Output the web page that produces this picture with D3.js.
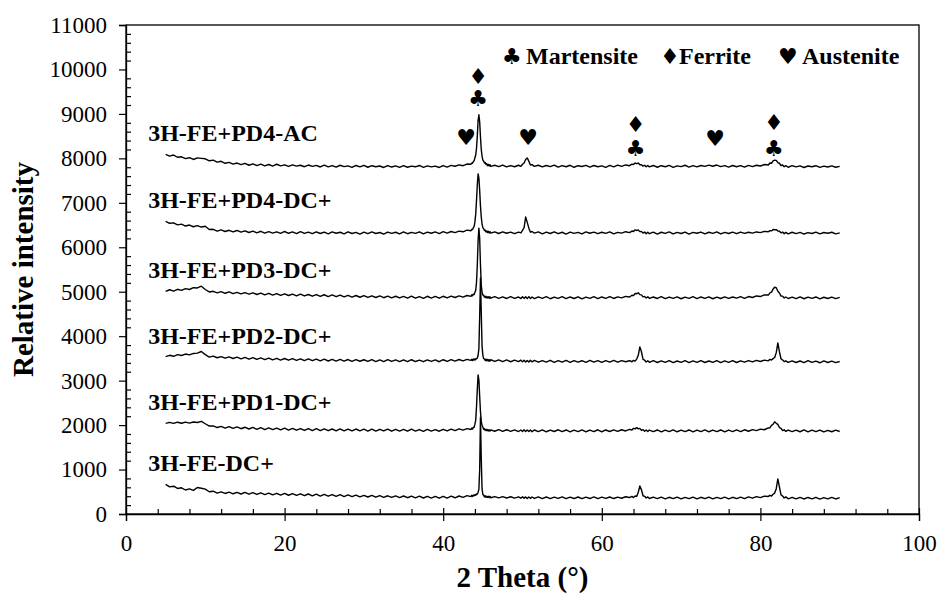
<!DOCTYPE html>
<html>
<head>
<meta charset="utf-8">
<script src="https://cdn.jsdelivr.net/npm/d3@7"></script>
<style>
  html, body { margin: 0; padding: 0; background: #fff; }
  svg { display: block; }
  text { font-family: "Liberation Serif", "Times New Roman", serif; fill: #000; }
  .suit { font-family: "DejaVu Sans", sans-serif; }
</style>
</head>
<body>
<svg id="chart" width="939" height="594"></svg>
<script>
// 2θ sampling grid shared by every pattern (finer steps across the reflections)
const twoTheta = [
  5, 5.5, 6, 6.5, 7, 7.5, 8, 8.5, 9, 9.5,
  10, 10.5, 11, 11.5, 12, 12.5, 13, 13.5, 14, 14.5,
  15, 15.5, 16, 16.5, 17, 17.5, 18, 18.5, 19, 19.5,
  20, 20.5, 21, 21.5, 22, 22.5, 23, 23.5, 24, 24.5,
  25, 25.5, 26, 26.5, 27, 27.5, 28, 28.5, 29, 29.5,
  30, 30.5, 31, 31.5, 32, 32.5, 33, 33.5, 34, 34.5,
  35, 35.5, 36, 36.5, 37, 37.5, 38, 38.5, 39, 39.5,
  40, 40.5, 41, 41.5, 42, 42.5, 43, 43.5,
  43.6, 43.7, 43.8, 43.9, 44.0, 44.1, 44.2, 44.3, 44.4, 44.5, 44.6, 44.7, 44.8, 44.9,
  45.0, 45.1, 45.2, 45.3, 45.4, 45.5, 45.6, 45.7, 45.8, 45.9, 46.0,
  46.5, 47, 47.5, 48, 48.5, 49, 49.5,
  49.8, 50.0, 50.2, 50.4, 50.6, 50.8, 51.0, 51.2,
  51.5, 52, 52.5, 53, 53.5, 54, 54.5, 55, 55.5, 56, 56.5, 57, 57.5, 58, 58.5,
  59, 59.5, 60, 60.5, 61, 61.5, 62, 62.5, 63, 63.5,
  63.8, 64.0, 64.2, 64.4, 64.6, 64.8, 65.0, 65.2, 65.4, 65.6, 65.8,
  66, 66.5, 67, 67.5, 68, 68.5, 69, 69.5, 70, 70.5,
  71, 71.5, 72, 72.5, 73, 73.5, 74, 74.5, 75, 75.5,
  76, 76.5, 77, 77.5, 78, 78.5, 79, 79.5, 80, 80.5, 81,
  81.2, 81.4, 81.6, 81.8, 82.0, 82.2, 82.4, 82.6, 82.8, 83.0, 83.2,
  83.5, 84, 84.5, 85, 85.5, 86, 86.5, 87, 87.5, 88, 88.5, 89, 89.5, 90
];

// Offset diffraction patterns (relative intensity), top to bottom
const pd4AC = [
  8090, 8050, 8075, 8025, 8035, 7995, 8015, 7975, 8010, 8000,
  7990, 7945, 7960, 7915, 7935, 7890, 7910, 7870, 7895, 7860,
  7888, 7845, 7878, 7838, 7870, 7832, 7862, 7825, 7868, 7830,
  7855, 7818, 7852, 7825, 7845, 7812, 7850, 7820, 7842, 7806,
  7848, 7810, 7838, 7802, 7845, 7815, 7832, 7798, 7840, 7808,
  7842, 7800, 7835, 7812, 7828, 7795, 7838, 7805, 7830, 7796,
  7835, 7800, 7826, 7810, 7840, 7798, 7832, 7808, 7825, 7795,
  7838, 7805, 7842, 7822, 7855, 7835, 7872, 7868,
  7895, 7890, 7930, 7945, 8010, 8075, 8230, 8500, 8850, 8980, 8820, 8480, 8200, 8050,
  7960, 7940, 7895, 7905, 7860, 7878, 7835, 7865, 7828, 7858, 7820,
  7845, 7815, 7850, 7808, 7838, 7812, 7845,
  7820, 7868, 7895, 7975, 8010, 7935, 7850, 7858,
  7820, 7845, 7808, 7840, 7815, 7848, 7802, 7838, 7812, 7845, 7800, 7835, 7818, 7842, 7805,
  7840, 7812, 7830, 7798, 7842, 7810, 7848, 7820, 7852, 7835,
  7870, 7862, 7895, 7880, 7895, 7855, 7858, 7825, 7845, 7810, 7838,
  7808, 7840, 7800, 7835, 7812, 7842, 7798, 7830, 7815, 7845,
  7802, 7835, 7808, 7840, 7820, 7848, 7822, 7850, 7815, 7838,
  7805, 7840, 7812, 7836, 7802, 7842, 7815, 7845, 7828, 7862, 7850,
  7895, 7890, 7945, 7960, 7955, 7905, 7890, 7838, 7850, 7812, 7835,
  7800, 7835, 7808, 7830, 7795, 7828, 7812, 7835, 7798, 7826, 7805, 7832, 7800, 7820
];

const pd4DC = [
  6585, 6540, 6550, 6505, 6520, 6478, 6500, 6462, 6488, 6455,
  6472, 6400, 6405, 6362, 6392, 6355, 6382, 6345, 6378, 6340,
  6370, 6332, 6365, 6325, 6360, 6320, 6352, 6318, 6348, 6312,
  6355, 6315, 6345, 6308, 6352, 6312, 6340, 6305, 6348, 6310,
  6342, 6302, 6345, 6315, 6338, 6300, 6348, 6310, 6335, 6298,
  6340, 6305, 6345, 6310, 6332, 6296, 6342, 6312, 6338, 6300,
  6345, 6305, 6335, 6312, 6348, 6302, 6340, 6315, 6345, 6308,
  6350, 6318, 6355, 6330, 6362, 6348, 6385, 6372,
  6400, 6398, 6440, 6465, 6570, 6745, 7050, 7400, 7650, 7560, 7280, 6930, 6680, 6525,
  6440, 6420, 6375, 6385, 6345, 6368, 6330, 6358, 6322, 6350, 6318,
  6345, 6310, 6348, 6315, 6342, 6305, 6340,
  6325, 6382, 6440, 6680, 6560, 6430, 6340, 6355,
  6318, 6345, 6302, 6340, 6310, 6348, 6305, 6338, 6298, 6342, 6312, 6335, 6300, 6345, 6315,
  6340, 6305, 6338, 6312, 6345, 6302, 6335, 6318, 6350, 6330,
  6365, 6355, 6392, 6378, 6390, 6352, 6355, 6318, 6342, 6305, 6338,
  6305, 6340, 6298, 6338, 6312, 6345, 6300, 6335, 6310, 6342,
  6298, 6335, 6315, 6342, 6302, 6338, 6312, 6345, 6300, 6336,
  6310, 6340, 6305, 6342, 6312, 6338, 6318, 6345, 6330, 6358, 6348,
  6375, 6368, 6400, 6395, 6398, 6365, 6362, 6325, 6342, 6305, 6335,
  6300, 6338, 6308, 6335, 6298, 6330, 6310, 6340, 6302, 6332, 6315, 6338, 6300, 6325
];

const pd3DC = [
  5010, 5045, 5015, 5055, 5030, 5070, 5050, 5090, 5085, 5125,
  5050, 4995, 5010, 4975, 5002, 4965, 4995, 4958, 4985, 4952,
  4980, 4945, 4975, 4938, 4968, 4930, 4962, 4925, 4958, 4920,
  4952, 4915, 4948, 4908, 4945, 4905, 4938, 4900, 4935, 4895,
  4932, 4892, 4928, 4888, 4925, 4885, 4920, 4880, 4915, 4876,
  4912, 4872, 4908, 4870, 4905, 4865, 4902, 4862, 4898, 4860,
  4895, 4858, 4900, 4855, 4892, 4852, 4898, 4858, 4895, 4855,
  4898, 4862, 4900, 4870, 4905, 4880, 4915, 4895,
  4930, 4910, 4945, 4935, 4990, 5030, 5210, 5600, 6150, 6430, 6200, 5600, 5150, 4995,
  4925, 4920, 4878, 4900, 4862, 4892, 4858, 4888, 4852, 4885, 4855,
  4888, 4850, 4885, 4848, 4890, 4852, 4882,
  4846, 4888, 4850, 4885, 4845, 4890, 4848, 4882,
  4845, 4885, 4850, 4888, 4842, 4880, 4852, 4890, 4845, 4882, 4848, 4886, 4840, 4880, 4852,
  4888, 4845, 4882, 4850, 4890, 4848, 4885, 4862, 4895, 4880,
  4920, 4912, 4960, 4955, 4975, 4935, 4930, 4885, 4895, 4860, 4885,
  4852, 4882, 4848, 4888, 4845, 4880, 4850, 4885, 4842, 4878,
  4852, 4888, 4846, 4882, 4850, 4886, 4842, 4880, 4848, 4885,
  4850, 4882, 4855, 4888, 4852, 4892, 4870, 4905, 4892, 4930, 4925,
  4975, 4990, 5060, 5100, 5090, 5010, 4972, 4900, 4902, 4860, 4882,
  4848, 4880, 4845, 4885, 4842, 4878, 4850, 4882, 4840, 4876, 4848, 4880, 4845, 4872
];

const pd2DC = [
  3540, 3570, 3548, 3585, 3565, 3598, 3580, 3612, 3618, 3655,
  3585, 3530, 3552, 3515, 3540, 3505, 3535, 3498, 3528, 3490,
  3522, 3482, 3518, 3478, 3512, 3472, 3508, 3468, 3502, 3462,
  3498, 3460, 3495, 3455, 3490, 3450, 3488, 3448, 3485, 3445,
  3482, 3442, 3480, 3440, 3478, 3438, 3475, 3435, 3472, 3436,
  3470, 3432, 3475, 3430, 3468, 3428, 3472, 3432, 3465, 3428,
  3468, 3425, 3470, 3430, 3462, 3426, 3468, 3432, 3465, 3425,
  3470, 3432, 3472, 3438, 3475, 3445, 3478, 3455,
  3480, 3450, 3485, 3462, 3490, 3472, 3502, 3505, 3570, 3720, 4450, 5310, 4550, 3780,
  3570, 3495, 3490, 3452, 3482, 3445, 3478, 3440, 3475, 3438, 3470,
  3432, 3468, 3428, 3465, 3425, 3460, 3428,
  3462, 3422, 3458, 3420, 3455, 3418, 3460, 3422,
  3455, 3415, 3452, 3418, 3458, 3412, 3450, 3415, 3455, 3410, 3452, 3418, 3448, 3412, 3455,
  3415, 3450, 3410, 3452, 3418, 3456, 3415, 3450, 3425, 3448,
  3425, 3455, 3440, 3485, 3570, 3760, 3650, 3480, 3460, 3420, 3448,
  3412, 3448, 3408, 3445, 3410, 3450, 3405, 3442, 3412, 3448,
  3406, 3445, 3410, 3450, 3408, 3442, 3412, 3448, 3405, 3445,
  3410, 3450, 3408, 3446, 3415, 3452, 3420, 3455, 3430, 3462, 3445,
  3478, 3462, 3495, 3520, 3630, 3850, 3650, 3490, 3465, 3428, 3445,
  3410, 3445, 3408, 3442, 3405, 3448, 3410, 3440, 3402, 3445, 3408, 3438, 3405, 3430
];

const pd1DC = [
  2040, 2062, 2038, 2065, 2042, 2068, 2045, 2070, 2058, 2085,
  2030, 1978, 1982, 1945, 1972, 1932, 1965, 1925, 1958, 1918,
  1952, 1912, 1948, 1905, 1942, 1900, 1938, 1898, 1932, 1892,
  1930, 1888, 1925, 1885, 1922, 1880, 1920, 1878, 1918, 1875,
  1915, 1874, 1912, 1872, 1915, 1870, 1910, 1868, 1912, 1870,
  1908, 1866, 1910, 1865, 1905, 1868, 1908, 1862, 1905, 1866,
  1902, 1862, 1908, 1865, 1900, 1860, 1905, 1866, 1898, 1862,
  1905, 1868, 1910, 1875, 1915, 1888, 1922, 1900,
  1935, 1910, 1950, 1950, 2020, 2110, 2410, 2800, 3130, 3020, 2650, 2300, 2085, 1990,
  1955, 1905, 1920, 1880, 1905, 1872, 1900, 1868, 1895, 1865, 1892,
  1862, 1898, 1858, 1895, 1860, 1892, 1855,
  1890, 1856, 1895, 1858, 1892, 1855, 1888, 1852,
  1890, 1855, 1892, 1850, 1888, 1856, 1895, 1852, 1890, 1848, 1886, 1855, 1892, 1850, 1888,
  1854, 1895, 1850, 1890, 1856, 1892, 1858, 1895, 1868, 1905,
  1890, 1928, 1915, 1942, 1915, 1925, 1880, 1898, 1860, 1888, 1856,
  1888, 1852, 1890, 1848, 1886, 1855, 1892, 1850, 1885, 1852,
  1890, 1848, 1888, 1855, 1892, 1850, 1886, 1852, 1890, 1848,
  1888, 1855, 1892, 1852, 1895, 1862, 1898, 1875, 1908, 1895, 1935,
  1940, 1995, 2020, 2075, 2040, 2015, 1945, 1925, 1878, 1895, 1858,
  1888, 1852, 1886, 1850, 1890, 1848, 1885, 1852, 1888, 1846, 1882, 1850, 1885, 1855
];

const feDC = [
  665, 610, 625, 575, 590, 540, 565, 530, 595, 580,
  560, 500, 512, 470, 498, 462, 492, 455, 488, 450,
  485, 445, 480, 440, 476, 436, 470, 430, 466, 426,
  462, 422, 458, 418, 455, 412, 450, 408, 446, 404,
  442, 400, 438, 396, 435, 392, 430, 390, 425, 386,
  420, 382, 418, 378, 415, 375, 410, 372, 408, 370,
  405, 366, 402, 362, 400, 360, 398, 358, 396, 356,
  398, 358, 400, 365, 405, 375, 412, 390,
  420, 395, 425, 410, 435, 420, 452, 445, 490, 560, 1000, 2180, 1250, 570,
  440, 425, 385, 410, 375, 400, 372, 398, 368, 395, 366,
  392, 362, 390, 360, 388, 358, 386,
  355, 388, 352, 385, 350, 384, 352, 382,
  350, 385, 348, 382, 346, 380, 350, 384, 345, 378, 348, 382, 344, 380, 348,
  384, 346, 378, 350, 382, 348, 380, 355, 388, 370,
  395, 370, 405, 395, 490, 630, 545, 410, 398, 360, 385,
  348, 380, 345, 378, 342, 376, 346, 380, 340, 375,
  344, 378, 342, 376, 346, 380, 340, 374, 345, 378,
  342, 376, 346, 380, 345, 384, 356, 392, 368, 402, 395,
  420, 405, 445, 470, 570, 790, 610, 430, 405, 360, 385,
  342, 376, 340, 374, 338, 372, 342, 376, 336, 370, 340, 374, 338, 368
];

const sampleNames = [
  "3H-FE+PD4-AC", "3H-FE+PD4-DC+", "3H-FE+PD3-DC+",
  "3H-FE+PD2-DC+", "3H-FE+PD1-DC+", "3H-FE-DC+"
];
const sampleValues = [pd4AC, pd4DC, pd3DC, pd2DC, pd1DC, feDC];

// Axis ticks
const xTicks = [0, 20, 40, 60, 80, 100];
const yTicks = [0, 1000, 2000, 3000, 4000, 5000, 6000, 7000, 8000, 9000, 10000, 11000];

// Phase legend and reflection markers (2θ, level)
const phaseSymbols = ["\u2663", "\u2666", "\u2665"];
const phaseNames = ["Martensite", "Ferrite", "Austenite"];
const markerSymbols = ["\u2666", "\u2663", "\u2665", "\u2665", "\u2666", "\u2663", "\u2665", "\u2666", "\u2663"];
const markerAngles  = [44.4, 44.4, 42.9, 50.7, 64.25, 64.25, 74.3, 81.7, 81.7];
const markerLevels  = [9850, 9340, 8480, 8480, 8770, 8230, 8450, 8800, 8230];

// ---- drawing ----
const W = 939, H = 594;
const margin = { top: 25, right: 20, bottom: 80, left: 126 };
const svg = d3.select("#chart");

const x = d3.scaleLinear().domain([0, 100]).range([margin.left, W - margin.right]);
const y = d3.scaleLinear().domain([0, 11000]).range([H - margin.bottom, margin.top]);

// plot frame
svg.append("rect")
  .attr("x", x(0)).attr("y", y(11000))
  .attr("width", x(100) - x(0)).attr("height", y(0) - y(11000))
  .attr("fill", "none").attr("stroke", "#000").attr("stroke-width", 1.3);

// minor ticks (inside)
const xMinor = d3.range(0, 100.001, 4).filter(v => !xTicks.includes(v));
const yMinor = d3.range(0, 11000.1, 200).filter(v => !yTicks.includes(v));

svg.append("g")
  .attr("transform", `translate(0,${y(0)})`)
  .call(d3.axisBottom(x).tickValues(xMinor).tickSize(-5).tickFormat(""))
  .call(g => g.select(".domain").remove())
  .selectAll("line").attr("stroke-width", 1.2);

svg.append("g")
  .attr("transform", `translate(${x(0)},0)`)
  .call(d3.axisLeft(y).tickValues(yMinor).tickSize(-5).tickFormat(""))
  .call(g => g.select(".domain").remove())
  .selectAll("line").attr("stroke-width", 1.2);

// major ticks
const xAxis = svg.append("g")
  .attr("transform", `translate(0,${y(0)})`)
  .call(d3.axisBottom(x).tickValues(xTicks).tickSize(7).tickPadding(14).tickFormat(d3.format("d")));
xAxis.select(".domain").attr("stroke-width", 1.3);
xAxis.selectAll(".tick line").attr("y1", -6).attr("stroke-width", 1.2);
xAxis.selectAll("text").style("font-size", "23px").style("font-family", '"Liberation Serif", serif');

const yAxis = svg.append("g")
  .attr("transform", `translate(${x(0)},0)`)
  .call(d3.axisLeft(y).tickValues(yTicks).tickSize(7).tickPadding(12).tickFormat(d3.format("d")));
yAxis.select(".domain").attr("stroke-width", 1.3);
yAxis.selectAll(".tick line").attr("stroke-width", 1.2);
yAxis.selectAll("text").style("font-size", "23px").style("font-family", '"Liberation Serif", serif');

// axis titles
svg.append("text")
  .attr("x", (x(0) + x(100)) / 2).attr("y", 587)
  .attr("text-anchor", "middle")
  .style("font-size", "29px").style("font-weight", "bold")
  .text("2 Theta (\u00B0)");

svg.append("text")
  .attr("transform", `translate(33,${(y(0) + y(11000)) / 2}) rotate(-90)`)
  .attr("text-anchor", "middle")
  .style("font-size", "29px").style("font-weight", "bold")
  .text("Relative intensity");

// patterns
const line = d3.line()
  .x((d, i) => x(twoTheta[i]))
  .y(d => y(d));

svg.append("g").selectAll("path")
  .data(sampleValues)
  .join("path")
  .attr("d", line)
  .attr("fill", "none")
  .attr("stroke", "#000")
  .attr("stroke-width", 1.4)
  .attr("stroke-linejoin", "round");

// sample names, just above the start of each pattern
svg.append("g").selectAll("text")
  .data(sampleNames)
  .join("text")
  .attr("x", x(2.8))
  .attr("y", (d, i) => y(sampleValues[i][0]) - 13)
  .style("font-size", "24px").style("font-weight", "bold")
  .text(d => d);

// reflection markers
svg.append("g").selectAll("text")
  .data(markerSymbols)
  .join("text")
  .attr("class", "suit")
  .attr("x", (d, i) => x(markerAngles[i]))
  .attr("y", (d, i) => y(markerLevels[i]))
  .attr("text-anchor", "middle")
  .attr("dominant-baseline", "central")
  .style("font-size", "22px")
  .text(d => d);

// phase legend
const legendX = [502, 660, 778];
const legend = svg.append("g");
phaseNames.forEach((name, i) => {
  legend.append("text")
    .attr("class", "suit")
    .attr("x", legendX[i]).attr("y", 64)
    .style("font-size", "22px")
    .text(phaseSymbols[i]);
  legend.append("text")
    .attr("x", legendX[i] + (i === 1 ? 19 : 24)).attr("y", 64)
    .style("font-size", "24px").style("font-weight", "bold")
    .text(name);
});
</script>
</body>
</html>
